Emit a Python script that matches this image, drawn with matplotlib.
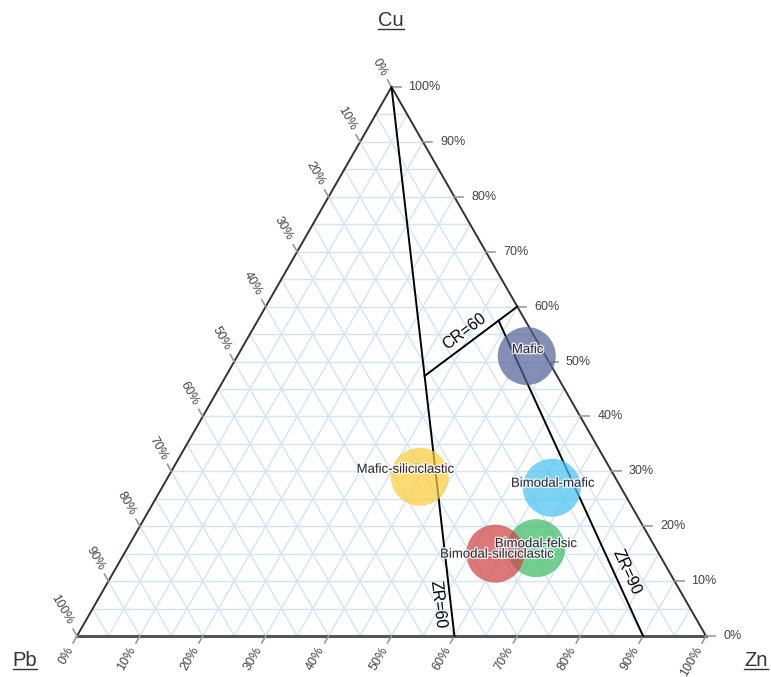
import numpy as np
import matplotlib.pyplot as plt
import matplotlib.patheffects as pe
from matplotlib.patches import Circle
from matplotlib.lines import Line2D
from matplotlib.transforms import IdentityTransform

plt.rcParams['font.family'] = ['Liberation Sans', 'DejaVu Sans']

# deposit groups, composition in percent
groups = ["Mafic", "Mafic-siliciclastic", "Bimodal-mafic",
          "Bimodal-felsic", "Bimodal-siliciclastic"]
cu = [51, 29, 27, 16, 15]
pb = [3, 31, 11, 19, 26]
zn = [46, 40, 62, 65, 59]
colors = ["#56649A", "#FCCD3D", "#4BC3F1", "#3EBC65", "#D04444"]

tick_values = list(range(0, 101, 10))
grid_values = list(range(5, 100, 5))

# field boundaries: ZR = Zn/(Zn+Pb), CR = Cu/(Cu+Zn)
ZR_LOW = 60
ZR_HIGH = 90
CR = 60

# layout (one unit = the triangle base width)
PX = 1 / 629.0
H = 549 / 629.0
RADIUS = 29 * PX
label_nudge = {"Mafic": (1, 6), "Mafic-siliciclastic": (-14, 7),
               "Bimodal-mafic": (1, 4), "Bimodal-felsic": (0, 4),
               "Bimodal-siliciclastic": (2, -1)}


def xy(c, p, z):
    s = float(c + p + z)
    c, p, z = c / s, p / s, z / s
    return z + c / 2.0, c * H


def ratio_point(cr, zr):
    # point with Cu/(Cu+Zn)=cr and Zn/(Zn+Pb)=zr
    z = 1.0
    c = z * cr / (1 - cr)
    p = z * (1 - zr) / zr
    return c, p, z


fig = plt.figure(figsize=(7.71, 6.77), dpi=100)
ax = fig.add_axes([0, 0, 1, 1])
ax.set_xlim(-77 * PX, 694 * PX)
ax.set_ylim(-41 * PX, 636 * PX)
ax.set_aspect('equal')
ax.axis('off')

# light grid every 5 %
for g in grid_values:
    f = g / 100.0
    for a, b in [((f, 1 - f, 0), (f, 0, 1 - f)),
                 ((1 - f, 0, f), (0, 1 - f, f)),
                 ((1 - f, f, 0), (0, f, 1 - f))]:
        (x0, y0), (x1, y1) = xy(*a), xy(*b)
        ax.plot([x0, x1], [y0, y1], color="#d3e4f4", lw=1.0, zorder=1)

# triangle
top, left, right = xy(1, 0, 0), xy(0, 1, 0), xy(0, 0, 1)
ax.plot([left[0], top[0], right[0]], [left[1], top[1], right[1]],
        color="#333333", lw=1.4, zorder=3)
ax.plot([left[0], right[0]], [left[1], right[1]], color="#555555", lw=2.2, zorder=3)

# ticks and tick labels
TL = 8 * PX
lab_kw = dict(fontsize=9, color="#444444", zorder=4)
dl = np.array([-0.5, -H]) / np.hypot(0.5, H)   # below the Zn axis
dp = np.array([-0.5, H]) / np.hypot(0.5, H)    # outside the Pb axis
for v in tick_values:
    f = v / 100.0
    # Zn along the base
    x, y = xy(0, 1 - f, f)
    ax.plot([x, x + dl[0] * TL], [y, y + dl[1] * TL], color="#999999", lw=1.2, zorder=3)
    ax.text(x + dl[0] * 13 * PX, y + dl[1] * 13 * PX, f"{v}%", rotation=60,
            ha='right', va='center', rotation_mode='anchor', **lab_kw)
    # Pb along the left side
    x, y = xy(1 - f, f, 0)
    ax.plot([x, x + dp[0] * TL], [y, y + dp[1] * TL], color="#999999", lw=1.2, zorder=3)
    ax.text(x + dp[0] * 14 * PX, y + dp[1] * 14 * PX, f"{v}%", rotation=-60,
            ha='right', va='center', rotation_mode='anchor', **lab_kw)
    # Cu along the right side
    x, y = xy(f, 0, 1 - f)
    ax.plot([x, x + 9 * PX], [y, y], color="#999999", lw=1.2, zorder=3)
    ax.text(x + 17 * PX, y, f"{v}%", ha='left', va='center', **lab_kw)

# field boundaries
p_low = ratio_point(CR / 100.0, ZR_LOW / 100.0)
p_high = ratio_point(CR / 100.0, ZR_HIGH / 100.0)
lines = [
    ((1, 0, 0), (0, 100 - ZR_LOW, ZR_LOW), f"ZR={ZR_LOW}", 0.94, -13),
    (p_high, (0, 100 - ZR_HIGH, ZR_HIGH), f"ZR={ZR_HIGH}", 0.814, 12),
    (p_low, (CR, 0, 100 - CR), f"CR={CR}", 0.51, 12),
]
for a, b, txt, t, off in lines:
    (x0, y0), (x1, y1) = xy(*a), xy(*b)
    ax.plot([x0, x1], [y0, y1], color="black", lw=1.4, zorder=5)
    dx, dy = x1 - x0, y1 - y0
    n = np.hypot(dx, dy)
    nx, ny = -dy / n, dx / n
    ax.text(x0 + t * dx + nx * off * PX, y0 + t * dy + ny * off * PX, txt,
            rotation=np.degrees(np.arctan2(dy, dx)), rotation_mode='anchor',
            ha='center', va='center', fontsize=11.5, color="black", zorder=6)

# deposit groups
for name, c, p, z, col in zip(groups, cu, pb, zn, colors):
    x, y = xy(c, p, z)
    ax.add_patch(Circle((x, y), RADIUS, facecolor=col, edgecolor='none',
                        alpha=0.72, zorder=7))
for name, c, p, z in zip(groups, cu, pb, zn):
    x, y = xy(c, p, z)
    nx, ny = label_nudge[name]
    ax.text(x + nx * PX, y + ny * PX, name, ha='center', va='center',
            fontsize=9.5, color="#2a2a3a", zorder=8,
            path_effects=[pe.withStroke(linewidth=2, foreground="white", alpha=0.8)])

# apex names, underlined
titles = []
for s, (px, py) in [("Cu", (391, 20)), ("Pb", (25, 660)), ("Zn", (756, 660))]:
    titles.append(ax.text((px - 77) * PX, (636 - py) * PX, s, ha='center',
                          va='center', fontsize=14.5, color="#333333"))
fig.canvas.draw()
renderer = fig.canvas.get_renderer()
for t in titles:
    bb = t.get_window_extent(renderer)
    fig.add_artist(Line2D([bb.x0, bb.x1], [bb.y0 + 1, bb.y0 + 1], color="#333333",
                          lw=1.0, transform=IdentityTransform()))

fig.savefig("out.png", dpi=100)
